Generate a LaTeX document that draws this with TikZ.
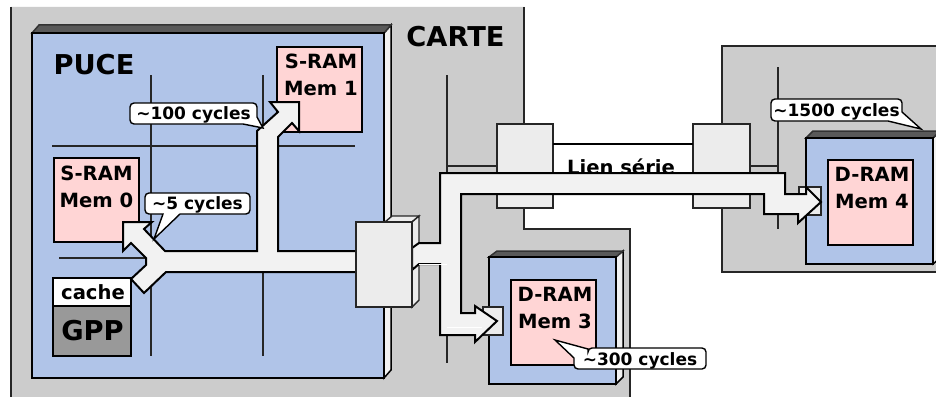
\documentclass[tikz,border=0pt]{standalone}
\usepackage{fontspec}
\setmainfont{DejaVu Sans}
\definecolor{carte}{HTML}{CCCCCC}
\definecolor{puce}{HTML}{B0C4E8}
\definecolor{mem}{HTML}{FFD5D5}
\definecolor{bloc}{HTML}{ECECEC}
\definecolor{fleche}{HTML}{F2F2F2}
\tikzset{
    cartebox/.style={draw=black!85, fill=carte, line width=1.2pt},
    fil/.style={draw=black!85, line width=1.5pt},
    chipbox/.style={draw=black, fill=puce, line width=2pt},
    chiptop/.style={draw=black!80, fill=black!65, line width=1.5pt},
    chipside/.style={draw=black, fill=fleche, line width=1.5pt},
    membox/.style={draw=black, fill=mem, line width=2pt},
    blocbox/.style={draw=black!85, fill=bloc, line width=1.4pt},
    flechebox/.style={draw=black, fill=fleche, line width=2pt, miter limit=20},
    bulle/.style={draw=black, fill=white, line width=1.4pt},
    grand/.style={font=\bfseries\fontsize{27.3}{27}\selectfont},
    moyen/.style={font=\bfseries\fontsize{19.6}{27}\selectfont, align=center},
    petit/.style={font=\bfseries\fontsize{17}{20}\selectfont}
}

\begin{document}
\begin{tikzpicture}[x=1pt, y=-1pt]
    \useasboundingbox (0,0) rectangle (936,396);
    \fill[white] (0,0) rectangle (936,396);
    \fill[carte] (11,7) -- (524,7) -- (524,229) -- (630,229) -- (630,400) -- (11,400) -- cycle;
    \draw[black!85, line width=1.2pt] (11,7) -- (11,400);
    \draw[black!85, line width=1.2pt] (524,7) -- (524,229) -- (630,229) -- (630,400);
    \draw[cartebox] (950,46) -- (722,46) -- (722,272) -- (950,272);
    \draw[fil] (447,75) -- (447,363);
    \draw[fil] (447,166) -- (497,166);
    \draw[fil] (750,166) -- (778,166);
    \draw[fil] (778,67) -- (778,229);

    \draw[chipside] (384,33) -- (391,25) -- (391,370) -- (384,378) -- cycle;
    \draw[chiptop] (32,33) -- (39,25) -- (391,25) -- (384,33) -- cycle;
    \draw[chipbox] (32,33) rectangle (384,378);
    \draw[fil] (151,75) -- (151,356);
    \draw[fil] (263,75) -- (263,356);
    \draw[fil] (52,146) -- (355,146);
    \draw[fil] (59,258) -- (146,258);
    \node[grand] (puce) at (94,65) {PUCE};
    \node[grand] (carte) at (455.5,37) {CARTE};

    \draw[membox] (277,47) rectangle (362,132);
    \node[moyen] (mem1) at (321,75) {S-RAM\\Mem 1};
    \draw[membox] (54,158) rectangle (139,242);
    \node[moyen] (mem0) at (96.5,187) {S-RAM\\Mem 0};
    \draw[membox, fill=white] (53,278) rectangle (131,306);
    \node[moyen] (cache) at (93,292) {cache};
    \draw[membox, fill=black!40] (53,306) rectangle (131,356);
    \node[grand] (gpp) at (92.5,331) {GPP};

    \draw[chipside] (616,257) -- (623,251) -- (623,377) -- (616,384) -- cycle;
    \draw[chiptop] (489,257) -- (497,251) -- (623,251) -- (616,257) -- cycle;
    \draw[chipbox] (489,257) rectangle (616,384);
    \draw[membox] (511,280) rectangle (596,365);
    \node[moyen] (mem3) at (555,308) {D-RAM\\Mem 3};
    \draw[blocbox] (483,307) rectangle (503,335);

    \draw[chipside] (933,138) -- (940,131) -- (940,258) -- (933,264) -- cycle;
    \draw[chiptop] (806,138) -- (813,131) -- (940,131) -- (933,138) -- cycle;
    \draw[chipbox] (806,138) rectangle (933,264);
    \draw[membox] (828,160) rectangle (913,245);
    \node[moyen] (mem4) at (872,188) {D-RAM\\Mem 4};
    \draw[blocbox] (799,187) rectangle (821,215);

    \draw[blocbox] (497,124) rectangle (553,208);
    \draw[blocbox] (693,124) rectangle (750,208);
    \draw[line width=2pt] (553,144) -- (693,144);
    \node[moyen] (lien) at (621,167) {Lien série};

    \draw[blocbox] (385,222) -- (392,216) -- (419,216) -- (412,222) -- cycle;
    \draw[blocbox] (412,222) -- (419,216) -- (419,300) -- (412,307) -- cycle;
    \draw[flechebox] (412,248) -- (419,243) -- (440,243) -- (440,173) -- (785,173) -- (785,194) -- (806,194) -- (806,187) -- (821,202) -- (798,223) -- (798,214) -- (764,214) -- (764,194) -- (461,194) -- (461,313) -- (475,313) -- (475,306) -- (497,321) -- (475,342) -- (475,335) -- (440,335) -- (440,264) -- (419,264) -- (412,270) -- cycle;
    \draw[white, line width=.8pt] (419,264) -- (447,264);
    \draw[white, line width=.8pt] (447,327) -- (482,327);

    \draw[flechebox] (356,251) -- (278,251) -- (278,137) -- (292,123) -- (299,131) -- (299,102) -- (270,102) -- (278,112) -- (257,131) -- (257,251) -- (165,251) -- (144,229) -- (152,222) -- (123,222) -- (123,251) -- (131,243) -- (146,258) -- (146,265) -- (131,279) -- (144,293) -- (166,272) -- (356,272) -- cycle;
    \draw[blocbox] (356,222) rectangle (412,307);

    \draw[bulle, rounded corners=4pt] (193,103) -- (257,103) [sharp corners] -- (257,117) -- (263,128) -- (243,124) [rounded corners=4pt] -- (130,124) -- (130,103) -- cycle;
    \node[petit] (bulle100) at (193.5,114.5) {\textasciitilde100 cycles};
    \draw[bulle, rounded corners=4pt] (197,193) -- (250,193) -- (250,214) [sharp corners] -- (180,214) -- (154,239) -- (163,214) [rounded corners=4pt] -- (145,214) -- (145,193) -- cycle;
    \node[petit] (bulle5) at (197.5,204.5) {\textasciitilde5 cycles};
    \draw[bulle, rounded corners=4pt] (640,348) -- (706,348) -- (706,369) -- (574,369) [sharp corners] -- (574,358) -- (555,340) -- (588,349) [rounded corners=4pt] -- (588,348) -- cycle;
    \node[petit] (bulle300) at (640,360.5) {\textasciitilde300 cycles};
    \draw[bulle, rounded corners=4pt] (836,99) -- (902,99) [sharp corners] -- (902,112) -- (921,129) -- (888,121) [rounded corners=4pt] -- (771,121) -- (771,99) -- cycle;
    \node[petit] (bulle1500) at (836.5,111.5) {\textasciitilde1500 cycles};
\end{tikzpicture}
\end{document}
